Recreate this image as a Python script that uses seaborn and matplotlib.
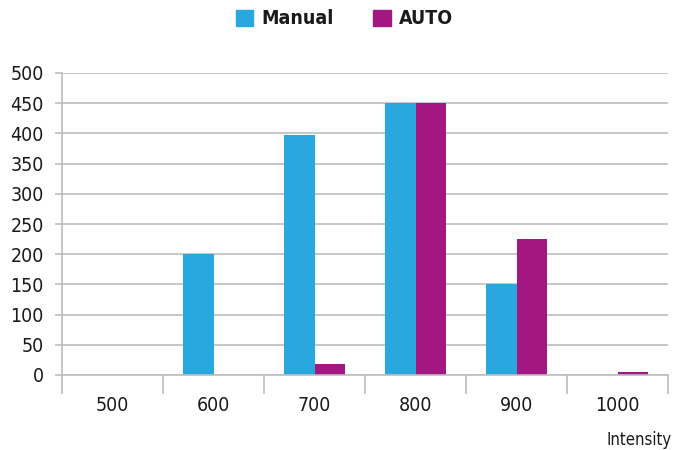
import matplotlib
matplotlib.use('Agg')
import matplotlib.pyplot as plt
import seaborn as sns
import pandas as pd
import numpy as np
from matplotlib.ticker import FixedLocator
from matplotlib.patches import Patch

# Datos
categorias = ['500', '600', '700', '800', '900', '1000']
manual = [0, 200, 398, 450, 150, 0]
auto = [0, 0, 18, 450, 225, 5]
series = ['Manual', 'AUTO']
colores = ['#29A8E0', '#A21880']

df = pd.DataFrame({
    'Intensity': categorias * 2,
    'valor': manual + auto,
    'serie': ['Manual'] * len(categorias) + ['AUTO'] * len(categorias),
})

sns.set_style('white')
plt.rcParams['font.family'] = ['DejaVu Sans']
plt.rcParams['font.stretch'] = 'condensed'
plt.rcParams['text.color'] = '#1a1a1a'

fig = plt.figure(figsize=(6.89, 4.5), dpi=100)
ax = fig.add_axes([62 / 689, 1 - 375 / 450, (668 - 62) / 689, (375 - 73) / 450])

sns.barplot(data=df, x='Intensity', y='valor', hue='serie', order=categorias,
            hue_order=series, palette=colores, width=0.6, gap=0, saturation=1,
            linewidth=0, legend=False, ax=ax)

gris = '#BDBDBD'
ax.set_ylim(0, 500)
ax.set_xlim(-0.5, len(categorias) - 0.5)
ax.set_yticks(np.arange(0, 501, 50))
ax.yaxis.grid(True, color=gris, lw=1.2)
ax.set_axisbelow(True)

for lado in ['top', 'right']:
    ax.spines[lado].set_visible(False)
ax.spines['left'].set_color(gris)
ax.spines['bottom'].set_color(gris)
ax.spines['left'].set_linewidth(1.2)
ax.spines['bottom'].set_linewidth(1.2)

ax.tick_params(axis='y', left=True, length=5, color=gris, width=1.2, pad=8,
               labelsize=14, labelcolor='#1a1a1a')
ax.tick_params(axis='x', which='major', bottom=True, length=0, pad=15,
               labelsize=14, labelcolor='#1a1a1a')
ax.xaxis.set_minor_locator(FixedLocator(np.arange(-0.5, len(categorias), 1.0)))
ax.tick_params(axis='x', which='minor', bottom=True, length=14, color=gris, width=1.2)

ax.set_xlabel('')
ax.set_ylabel('')
fig.text(672 / 689, 1 - 440 / 450, 'Intensity', ha='right', va='center', fontsize=12)

handles = [Patch(color=c, label=s) for c, s in zip(colores, series)]
fig.legend(handles=handles, loc='center', bbox_to_anchor=(0.5, 1 - 19 / 450),
           ncol=2, frameon=False, handlelength=0.9, handleheight=0.9,
           columnspacing=2.0, handletextpad=0.45,
           prop={'weight': 'bold', 'size': 14, 'stretch': 'condensed'})

fig.savefig('out.png', dpi=100)
